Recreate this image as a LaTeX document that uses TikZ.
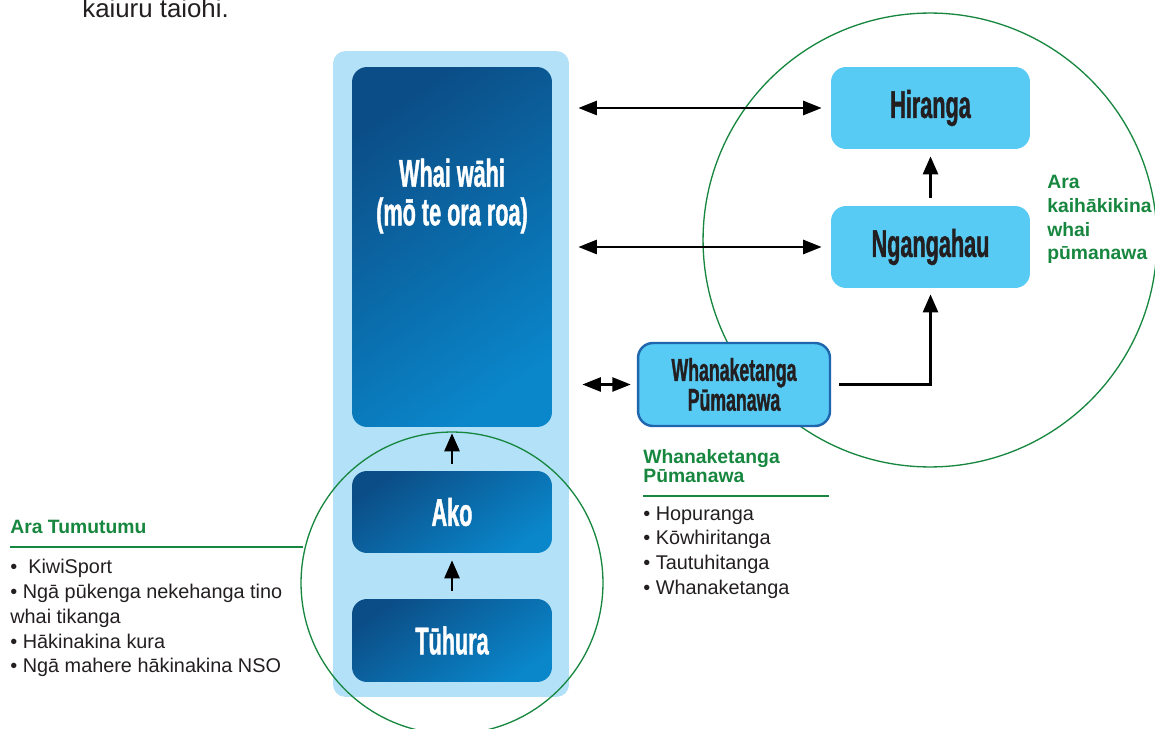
\documentclass[tikz,border=0pt]{standalone}
\usepackage{fontspec}
\setmainfont{Liberation Sans}
\newfontfamily\condfont[FakeStretch=0.56,FakeBold=1]{Liberation Sans}
\usetikzlibrary{arrows.meta,positioning}

\definecolor{paleblue}{HTML}{B3E1F7}
\definecolor{skyblue}{HTML}{58CBF5}
\definecolor{deepblue}{HTML}{0B4E87}
\definecolor{oceanblue}{HTML}{0A86CA}
\definecolor{edgeblue}{HTML}{1F66AE}
\definecolor{leafgreen}{HTML}{17873F}
\definecolor{inkgray}{HTML}{231F20}

\tikzset{
  darkbox/.style={rounded corners=0.3cm, top color=deepblue, bottom color=oceanblue,
    shading angle=35, minimum width=4cm, text=white,
    font=\condfont\bfseries\fontsize{22}{22}\selectfont},
  lightbox/.style={rounded corners=0.3cm, fill=skyblue, minimum width=3.98cm,
    minimum height=1.64cm, text=inkgray,
    font=\condfont\bfseries\fontsize{22}{22}\selectfont},
  flow/.style={line width=1.5pt, -{Triangle[length=0.36cm,width=0.3cm]}},
  twoway/.style={line width=1.5pt,
    {Triangle[length=0.37cm,width=0.28cm]}-{Triangle[length=0.37cm,width=0.28cm]}},
  ring/.style={draw=leafgreen, line width=0.75pt},
  headtxt/.style={text=leafgreen, font=\bfseries\fontsize{11}{13.5}\selectfont,
    align=left, inner sep=0pt},
  listtxt/.style={text=inkgray, font=\fontsize{11.3}{14.1}\selectfont,
    align=left, inner sep=0pt},
  rule/.style={draw=leafgreen, line width=0.8pt}
}

\begin{document}
\begin{tikzpicture}[x=0.02cm,y=-0.02cm]
  \useasboundingbox[fill=white] (0,0) rectangle (1155,729);

  % opening text, cut off by the page edge
  \node[anchor=base west, inner sep=0pt, text=inkgray,
    font=\fontsize{14.7}{17}\selectfont] (intro) at (82,18) {kaiuru taiohi.};

  % the pale column and the green rings
  \node[fill=paleblue, rounded corners=0.25cm, minimum width=4.72cm,
    minimum height=12.92cm] (col) at (451,374) {};
  \draw[ring] (452,583) circle[radius=3.02cm];
  \draw[ring] (930,240) circle[radius=4.54cm];

  % left column
  \node[darkbox, minimum height=7.2cm] (whai) at (452,247) {};
  \node[text=white, align=center,
    font=\condfont\bfseries\fontsize{22}{22}\selectfont] (whaitxt) at (452,196)
    {Whai wāhi\\(mō te ora roa)};
  \node[darkbox, minimum height=1.64cm] (ako) at (452,512) {Ako};
  \node[darkbox, minimum height=1.66cm] (tuhura) at (452,640.5) {Tūhura};

  % right side
  \node[lightbox] (hir) at (930.5,108) {Hiranga};
  \node[lightbox] (nga) at (930.5,247) {Ngangahau};
  \node[lightbox, draw=edgeblue, line width=1.4pt, minimum width=3.84cm,
    minimum height=1.66cm, align=center,
    font=\condfont\bfseries\fontsize{18}{17}\selectfont] (wp) at (734,384.5)
    {Whanaketanga\\Pūmanawa};

  % arrows
  \draw[flow, shorten <=0.16cm, shorten >=0.14cm] (tuhura) -- (ako);
  \draw[flow, shorten <=0.14cm, shorten >=0.12cm] (ako) -- (whai);
  \draw[flow, shorten <=0.16cm, shorten >=0.14cm] (nga) -- (hir);
  \draw[flow, shorten <=0.16cm, shorten >=0.12cm] (wp.east) -| (nga.south);
  \draw[twoway, shorten <=0.18cm, shorten >=0.18cm] (col.east |- hir.west) -- (hir.west);
  \draw[twoway, shorten <=0.18cm, shorten >=0.18cm] (col.east |- nga.west) -- (nga.west);
  \draw[twoway, shorten <=0.26cm, shorten >=0.12cm] (col.east |- wp.west) -- (wp.west);

  % side notes
  \node[headtxt, anchor=base west] (tumuhead) at (10,533) {Ara Tumutumu};
  \draw[rule] (10,547) -- (303,547);
  \node[listtxt, anchor=north west] (tumulist) at (10,559)
    {•\ \ KiwiSport\\• Ngā pūkenga nekehanga tino\\whai tikanga\\• Hākinakina kura\\• Ngā mahere hākinakina NSO};

  \node[headtxt, anchor=north west, font=\bfseries\fontsize{11}{10.8}\selectfont]
    (wphead) at (643,449) {Whanaketanga\\Pūmanawa};
  \draw[rule] (643,496) -- (829,496);
  \node[listtxt, anchor=north west] (wplist) at (643,506)
    {• Hopuranga\\• Kōwhiritanga\\• Tautuhitanga\\• Whanaketanga};

  \node[headtxt, anchor=north west] (arahead) at (1047,175)
    {Ara\\kaihākikina\\whai\\pūmanawa};
\end{tikzpicture}
\end{document}
